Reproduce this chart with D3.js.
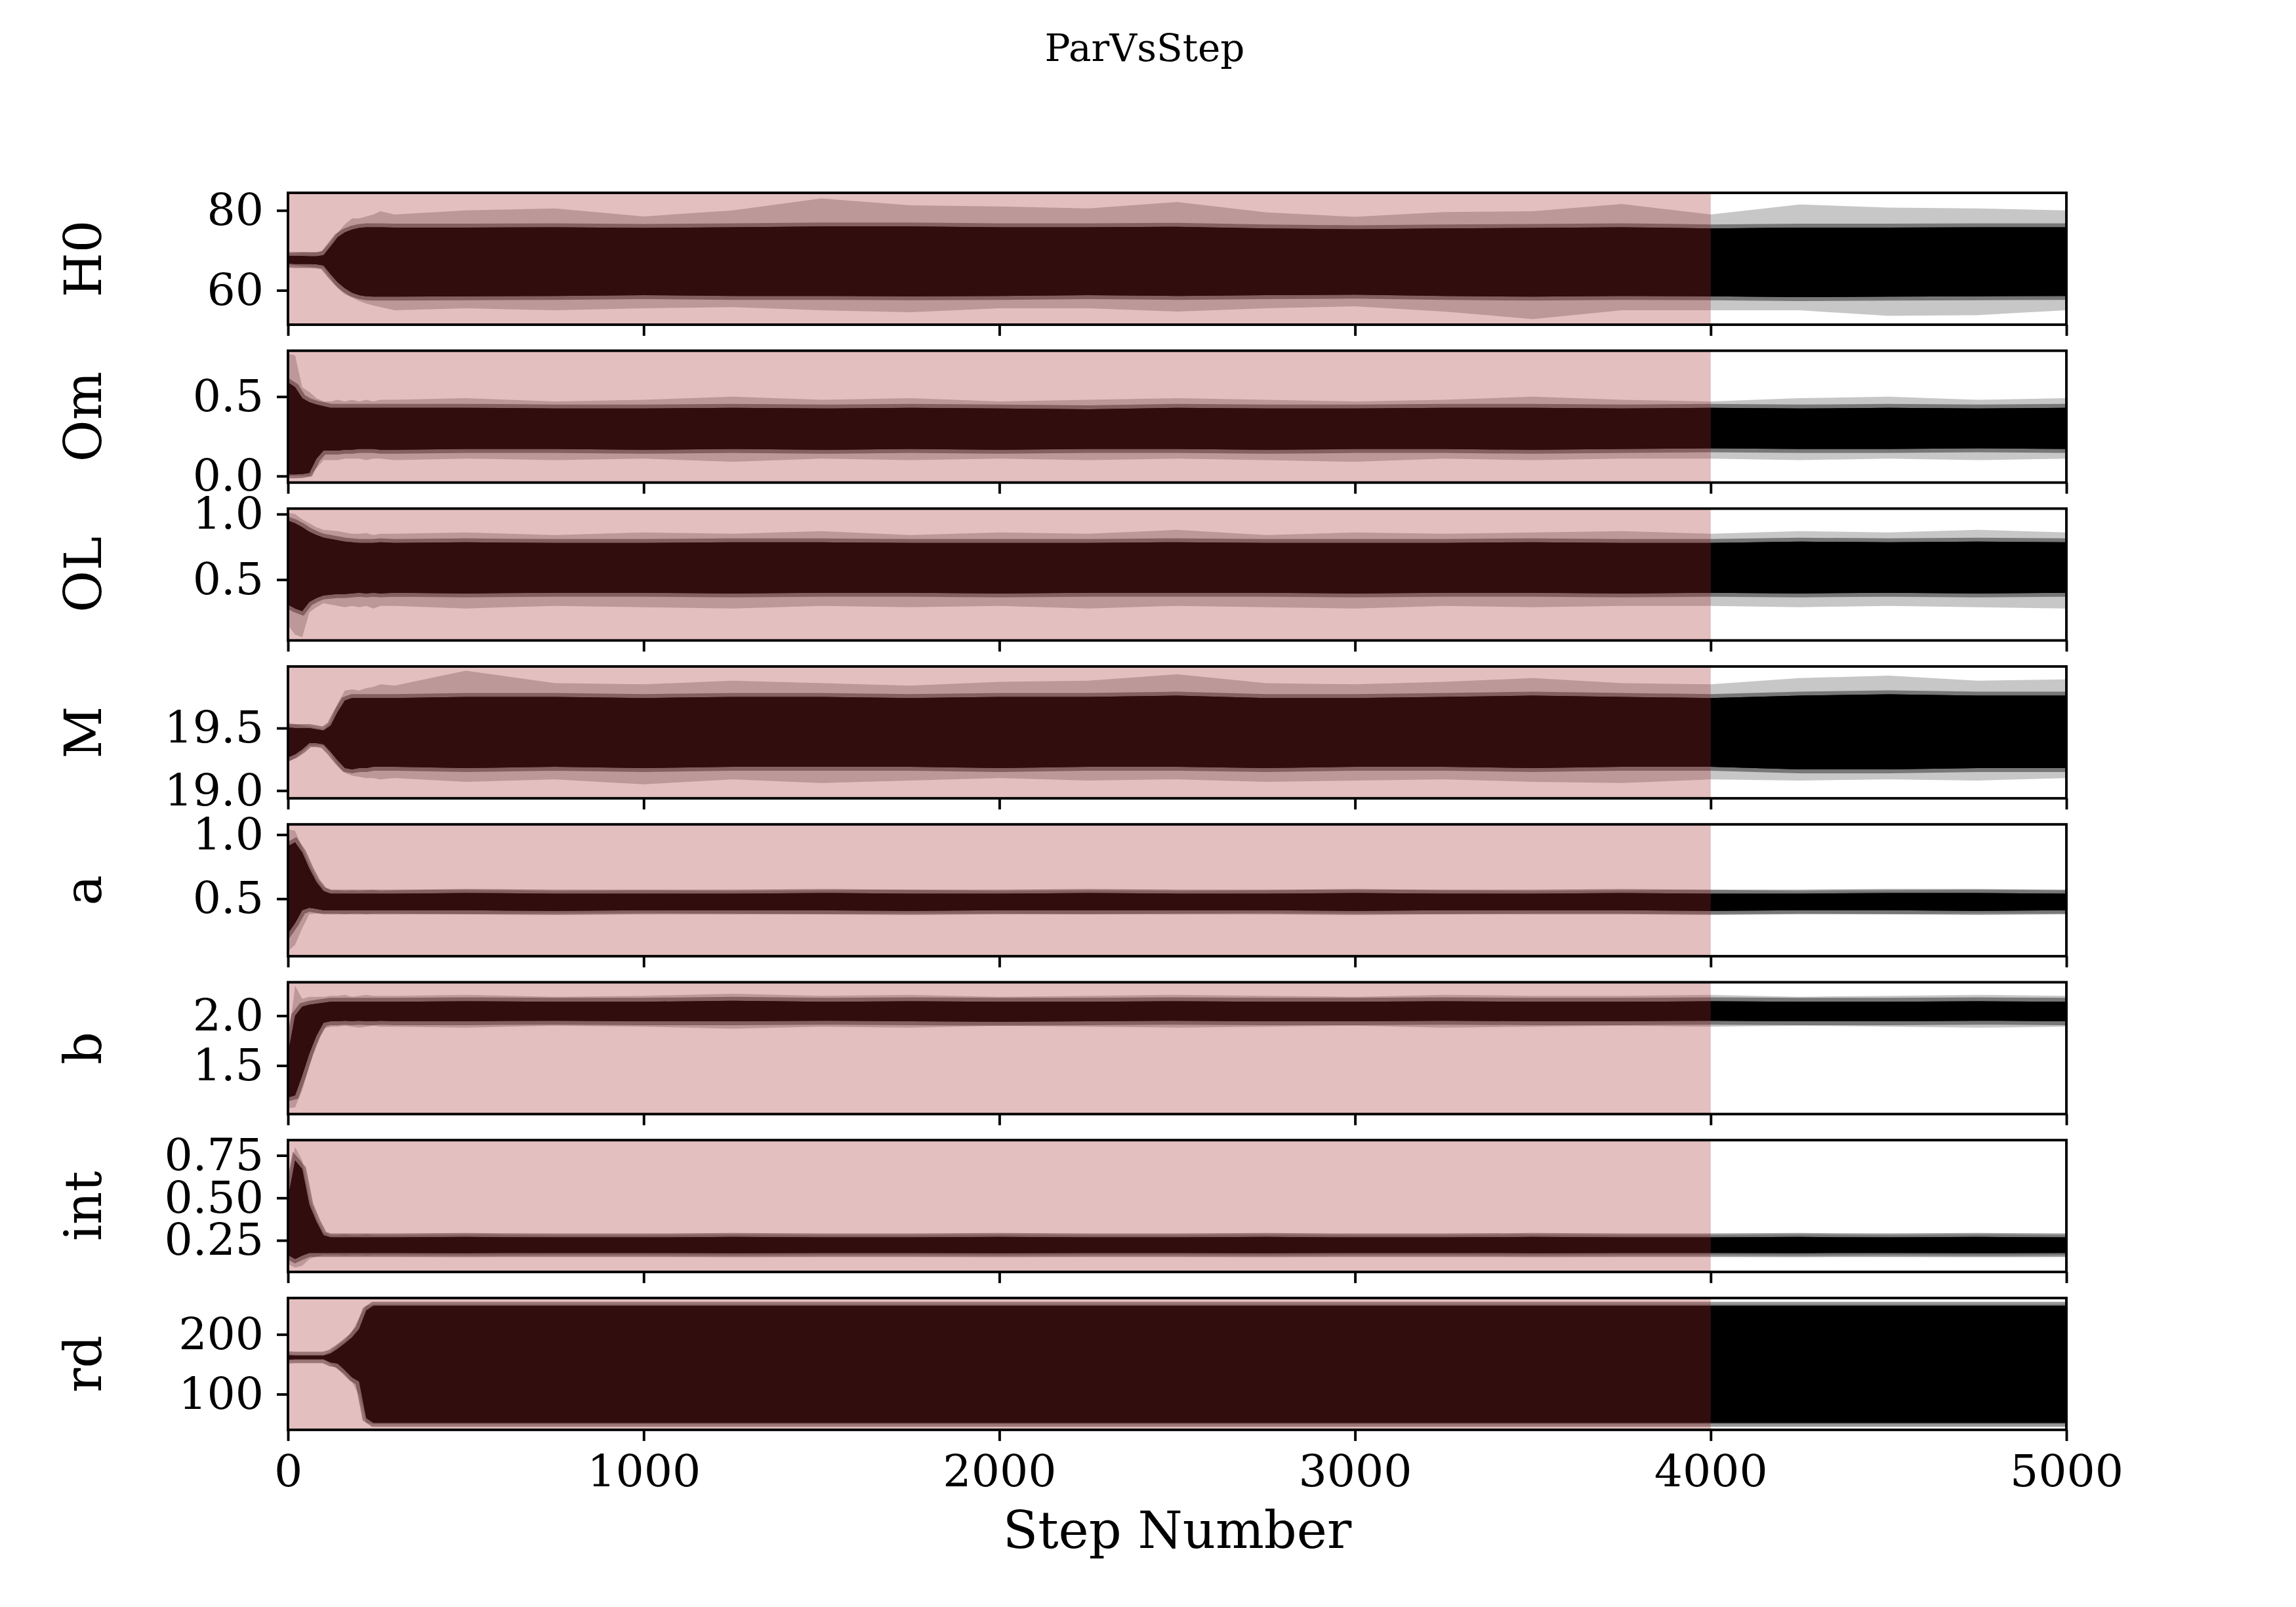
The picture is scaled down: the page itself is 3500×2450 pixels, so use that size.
<!DOCTYPE html>
<html><head><meta charset="utf-8">
<script src="https://cdn.jsdelivr.net/npm/d3@7"></script>
<style>body{margin:0;background:#fff}svg{display:block}text{font-family:"DejaVu Serif",serif}</style>
</head><body>
<svg id="chart" width="3500" height="2450"></svg>
<script>
// ---------------- data ----------------
const params = ["H0", "Om", "OL", "M", "a", "b", "int", "rd"];
const steps = [0,20,40,60,80,100,120,140,160,180,200,220,240,260,
  300,500,750,1000,1250,1500,1750,2000,2250,2500,2750,3000,3250,3500,3750,4000,4250,4500,4750,5000];

// envelope of all walkers: outer (hi/lo) and dense core (chi/clo)
const H0_hi  = [69.2,69.3,69.5,69.6,69.6,70.0,72.0,74.5,76.5,78.0,78.0,78.5,79.0,79.8, 79.0,80.0,80.5,78.5,80.0,83.0,81.3,81.0,80.5,82.1,79.5,78.4,79.6,79.8,81.6,79.0,81.5,80.7,80.5,80.0];
const H0_chi = [68.6,68.6,68.6,68.5,68.5,68.8,71.0,73.3,74.5,75.2,75.6,75.8,75.8,75.8, 75.7,75.7,75.8,75.6,75.8,76.0,76.0,75.8,75.8,75.9,75.5,75.3,75.5,75.6,75.8,75.5,75.7,75.7,75.8,75.8];
const H0_clo = [66.7,66.6,66.6,66.6,66.5,66.2,64.0,62.0,60.5,59.4,58.8,58.5,58.4,58.4, 58.4,58.5,58.6,58.8,58.6,58.6,58.5,58.6,58.8,58.6,58.8,58.9,58.6,58.4,58.6,58.5,58.3,58.4,58.5,58.6];
const H0_lo  = [66.3,66.2,66.0,65.9,65.8,65.5,63.0,60.5,59.0,58.2,57.3,56.7,56.2,55.8, 55.0,55.5,55.0,55.5,55.8,55.0,54.5,55.5,55.5,54.7,55.5,56.0,54.7,52.8,55.0,55.0,55.0,53.6,53.8,55.0];

const Om_hi  = [0.77,0.76,0.56,0.53,0.49,0.47,0.47,0.48,0.47,0.48,0.47,0.48,0.47,0.48, 0.48,0.49,0.47,0.48,0.50,0.48,0.49,0.47,0.48,0.49,0.48,0.47,0.48,0.50,0.48,0.47,0.49,0.50,0.48,0.49];
const Om_chi = [0.59,0.56,0.49,0.465,0.45,0.44,0.43,0.43,0.43,0.43,0.43,0.43,0.43,0.43, 0.43,0.43,0.425,0.425,0.43,0.425,0.43,0.425,0.42,0.43,0.425,0.425,0.43,0.43,0.425,0.43,0.425,0.43,0.425,0.43];
const Om_clo = [0.01,0.01,0.012,0.02,0.11,0.16,0.16,0.16,0.165,0.165,0.17,0.17,0.17,0.165, 0.165,0.17,0.17,0.165,0.17,0.165,0.17,0.165,0.17,0.17,0.165,0.17,0.17,0.165,0.17,0.175,0.17,0.17,0.175,0.17];
const Om_lo  = [0.0,0.0,0.0,0.0,0.05,0.10,0.10,0.10,0.11,0.11,0.11,0.10,0.11,0.11, 0.10,0.11,0.10,0.11,0.09,0.11,0.10,0.11,0.10,0.11,0.10,0.09,0.11,0.10,0.11,0.11,0.10,0.11,0.10,0.11];

const OL_hi  = [1.01,1.0,0.96,0.93,0.90,0.88,0.875,0.87,0.86,0.85,0.85,0.855,0.84,0.85, 0.85,0.86,0.84,0.86,0.85,0.87,0.84,0.86,0.85,0.88,0.84,0.86,0.85,0.86,0.87,0.85,0.87,0.86,0.88,0.86];
const OL_chi = [0.95,0.93,0.90,0.865,0.84,0.82,0.81,0.80,0.79,0.785,0.78,0.78,0.78,0.785, 0.78,0.785,0.78,0.78,0.785,0.785,0.78,0.78,0.78,0.785,0.78,0.78,0.78,0.785,0.78,0.78,0.79,0.785,0.79,0.785];
const OL_clo = [0.31,0.28,0.26,0.33,0.36,0.38,0.385,0.39,0.39,0.395,0.40,0.395,0.40,0.395, 0.40,0.395,0.40,0.40,0.395,0.40,0.40,0.395,0.40,0.40,0.40,0.395,0.40,0.40,0.395,0.40,0.395,0.40,0.395,0.40];
const OL_lo  = [0.15,0.08,0.06,0.25,0.29,0.32,0.31,0.30,0.29,0.30,0.29,0.30,0.28,0.30, 0.30,0.28,0.30,0.29,0.28,0.30,0.29,0.30,0.28,0.30,0.29,0.28,0.30,0.29,0.30,0.30,0.29,0.30,0.29,0.28];

const M_hi  = [19.53,19.53,19.52,19.51,19.50,19.49,19.55,19.70,19.80,19.81,19.80,19.82,19.83,19.85, 19.84,19.96,19.86,19.85,19.88,19.86,19.84,19.87,19.88,19.93,19.86,19.85,19.87,19.90,19.86,19.85,19.90,19.92,19.88,19.89];
const M_chi = [19.505,19.50,19.50,19.50,19.49,19.48,19.52,19.63,19.72,19.74,19.74,19.74,19.74,19.74, 19.74,19.75,19.75,19.74,19.75,19.75,19.74,19.75,19.75,19.76,19.74,19.74,19.75,19.76,19.75,19.74,19.76,19.77,19.76,19.76];
const M_clo = [19.265,19.29,19.33,19.38,19.38,19.37,19.31,19.24,19.18,19.17,19.18,19.18,19.19,19.19, 19.19,19.18,19.19,19.18,19.19,19.19,19.19,19.18,19.19,19.19,19.18,19.19,19.19,19.18,19.19,19.19,19.17,19.17,19.18,19.18];
const M_lo  = [19.23,19.26,19.31,19.36,19.36,19.36,19.29,19.20,19.14,19.12,19.11,19.10,19.10,19.09, 19.10,19.07,19.09,19.05,19.09,19.06,19.08,19.10,19.08,19.09,19.07,19.08,19.09,19.07,19.06,19.09,19.08,19.09,19.08,19.10];

const a_hi  = [1.04,1.03,0.90,0.77,0.66,0.59,0.565,0.565,0.56,0.565,0.56,0.565,0.57,0.56, 0.565,0.57,0.56,0.565,0.56,0.565,0.57,0.56,0.565,0.56,0.565,0.57,0.565,0.56,0.565,0.57,0.56,0.565,0.57,0.565];
const a_chi = [0.91,0.94,0.86,0.735,0.63,0.56,0.54,0.54,0.54,0.54,0.54,0.54,0.54,0.54, 0.54,0.545,0.54,0.54,0.54,0.545,0.54,0.54,0.545,0.54,0.54,0.545,0.54,0.54,0.545,0.54,0.54,0.545,0.545,0.54];
const a_clo = [0.23,0.31,0.41,0.43,0.42,0.41,0.41,0.41,0.41,0.41,0.41,0.41,0.41,0.41, 0.41,0.41,0.405,0.41,0.41,0.41,0.405,0.41,0.41,0.41,0.41,0.405,0.41,0.41,0.41,0.405,0.41,0.41,0.405,0.41];
const a_lo  = [0.09,0.14,0.27,0.38,0.385,0.385,0.385,0.385,0.38,0.385,0.385,0.38,0.385,0.385, 0.385,0.38,0.385,0.39,0.385,0.38,0.385,0.385,0.38,0.385,0.39,0.385,0.38,0.385,0.385,0.38,0.385,0.38,0.385,0.385];

const b_hi  = [1.73,2.30,2.17,2.19,2.19,2.19,2.20,2.20,2.21,2.19,2.20,2.21,2.20,2.20, 2.20,2.21,2.19,2.20,2.22,2.20,2.21,2.19,2.20,2.21,2.20,2.19,2.21,2.20,2.20,2.21,2.19,2.20,2.21,2.20];
const b_chi = [1.62,2.00,2.09,2.11,2.12,2.13,2.14,2.14,2.14,2.14,2.14,2.14,2.14,2.14, 2.14,2.145,2.14,2.14,2.15,2.14,2.145,2.14,2.14,2.145,2.14,2.14,2.145,2.14,2.14,2.145,2.14,2.14,2.145,2.14];
const b_clo = [1.18,1.20,1.40,1.62,1.80,1.93,1.945,1.945,1.95,1.945,1.95,1.945,1.945,1.95, 1.945,1.945,1.95,1.945,1.945,1.95,1.945,1.94,1.945,1.95,1.945,1.945,1.95,1.945,1.945,1.95,1.945,1.945,1.95,1.945];
const b_lo  = [1.07,1.08,1.25,1.50,1.72,1.87,1.89,1.89,1.90,1.89,1.88,1.89,1.90,1.89, 1.89,1.88,1.90,1.89,1.87,1.89,1.88,1.90,1.89,1.88,1.89,1.90,1.88,1.89,1.90,1.89,1.90,1.89,1.88,1.89];

const int_hi  = [0.60,0.80,0.72,0.50,0.38,0.30,0.28,0.28,0.285,0.28,0.28,0.285,0.28,0.28, 0.28,0.285,0.28,0.28,0.285,0.28,0.28,0.285,0.28,0.28,0.285,0.28,0.28,0.285,0.28,0.28,0.285,0.28,0.285,0.28];
const int_chi = [0.50,0.72,0.67,0.46,0.36,0.28,0.267,0.267,0.267,0.267,0.267,0.267,0.267,0.267, 0.267,0.27,0.267,0.267,0.27,0.267,0.267,0.27,0.267,0.267,0.27,0.267,0.267,0.27,0.267,0.267,0.27,0.267,0.27,0.267];
const int_clo = [0.163,0.14,0.16,0.176,0.176,0.176,0.176,0.176,0.176,0.176,0.176,0.176,0.176,0.176, 0.176,0.175,0.176,0.176,0.175,0.176,0.176,0.175,0.176,0.176,0.175,0.176,0.176,0.175,0.176,0.176,0.175,0.176,0.175,0.176];
const int_lo  = [0.11,0.09,0.10,0.14,0.155,0.163,0.163,0.163,0.16,0.163,0.163,0.16,0.163,0.163, 0.163,0.16,0.163,0.163,0.16,0.163,0.163,0.16,0.163,0.163,0.16,0.163,0.163,0.16,0.163,0.163,0.16,0.163,0.16,0.163];

const rd_hi  = [167,166,166,166,166,166,171,182,190,205,227,248,250,250, 250,250,250,250,250,250,250,250,250,250,250,250,250,250,250,250,250,250,250,250];
const rd_chi = [165,164.5,164.5,164.5,164.5,164.5,168,176,185,195,209,240,248,248, 248,248,248,248,248,248,248,248,248,248,248,248,248,248,248,248,248,248,248,248];
const rd_clo = [158,158.5,158.5,158.5,158.5,158.5,153,151,140,128,121,60,52,52, 52,52,52,52,52,52,52,52,52,52,52,52,52,52,52,52,52,52,52,52];
const rd_lo  = [157,157,157,157,157,157,150,142,134,120,99,52,50,50, 50,50,50,50,50,50,50,50,50,50,50,50,50,50,50,50,50,50,50,50];

const yDomains = [[51.4,84.4],[-0.041,0.789],[0.036,1.042],[18.938,19.993],[0.052,1.080],[1.013,2.336],[0.064,0.840],[40.3,260.9]];
const yTicks = [[60,80],[0,0.5],[0.5,1.0],[19.0,19.5],[0.5,1.0],[1.5,2.0],[0.25,0.5,0.75],[100,200]];
const yTickLabels = [["60","80"],["0.0","0.5"],["0.5","1.0"],["19.0","19.5"],["0.5","1.0"],["1.5","2.0"],["0.25","0.50","0.75"],["100","200"]];
const xTicks = [0,1000,2000,3000,4000,5000];
const xTickLabels = ["0","1000","2000","3000","4000","5000"];
const stepRange = [0,5000];
const burnIn = [0,4000];
const titleText = "ParVsStep";
const xLabelText = "Step Number";

// ---------------- layout ----------------
const series = {
  H0:[H0_hi,H0_chi,H0_clo,H0_lo], Om:[Om_hi,Om_chi,Om_clo,Om_lo], OL:[OL_hi,OL_chi,OL_clo,OL_lo],
  M:[M_hi,M_chi,M_clo,M_lo], a:[a_hi,a_chi,a_clo,a_lo], b:[b_hi,b_chi,b_clo,b_lo],
  int:[int_hi,int_chi,int_clo,int_lo], rd:[rd_hi,rd_chi,rd_clo,rd_lo]
};
const L = 439, R = 3150, TOP0 = 294, GAP = 240.7, PH = 201;
const LW = 3.9, TICK = 17;
const svg = d3.select("#chart");
svg.append("rect").attr("width",3500).attr("height",2450).attr("fill","#fff");
const x = d3.scaleLinear().domain(stepRange).range([L,R]);

svg.append("text").attr("x",1745).attr("y",93).attr("text-anchor","middle")
  .attr("font-size",58).text(titleText);

params.forEach((p,i)=>{
  const top = TOP0 + i*GAP;
  const g = svg.append("g").attr("transform",`translate(0,${top})`);
  const y = d3.scaleLinear().domain(yDomains[i]).range([PH,0]);
  const [hi,chi,clo,lo] = series[p];
  const clipId = "clip"+i;
  g.append("clipPath").attr("id",clipId).append("rect").attr("x",L).attr("y",0).attr("width",R-L).attr("height",PH);
  const plot = g.append("g").attr("clip-path",`url(#${clipId})`);
  const idx = d3.range(steps.length);
  const outer = d3.area().x(j=>x(steps[j])).y0(j=>y(lo[j])).y1(j=>y(hi[j]));
  const core = d3.area().x(j=>x(steps[j])).y0(j=>y(clo[j])).y1(j=>y(chi[j]));
  plot.append("path").datum(idx).attr("d",outer).attr("fill","#000").attr("fill-opacity",0.22);
  plot.append("path").datum(idx).attr("d",core).attr("fill","#000")
    .attr("stroke","#000").attr("stroke-opacity",0.4).attr("stroke-width",12);
  plot.append("path").datum(idx).attr("d",core).attr("fill","#000");
  // burn-in shading
  plot.append("rect").attr("x",x(burnIn[0])).attr("y",0).attr("width",x(burnIn[1])-x(burnIn[0])).attr("height",PH)
    .attr("fill","#a52a2a").attr("fill-opacity",0.3);

  // y axis
  const ya = g.append("g").attr("transform",`translate(${L},0)`)
    .call(d3.axisLeft(y).tickValues(yTicks[i]).tickFormat((d,k)=>yTickLabels[i][k]).tickSize(TICK).tickPadding(20));
  ya.select(".domain").remove();
  ya.selectAll("line").attr("stroke","#000").attr("stroke-width",LW);
  ya.selectAll("text").attr("font-size",68).attr("font-family","DejaVu Serif").attr("fill","#000");

  // x axis
  const xa = g.append("g").attr("transform",`translate(0,${PH})`)
    .call(d3.axisBottom(x).tickValues(xTicks).tickFormat((d,k)=> i===params.length-1 ? xTickLabels[k] : "").tickSize(TICK).tickPadding(21));
  xa.select(".domain").remove();
  xa.selectAll("line").attr("stroke","#000").attr("stroke-width",LW);
  xa.selectAll("text").attr("font-size",68).attr("font-family","DejaVu Serif").attr("fill","#000");

  // spines
  g.append("rect").attr("x",L).attr("y",0).attr("width",R-L).attr("height",PH)
    .attr("fill","none").attr("stroke","#000").attr("stroke-width",LW);

  // y label
  g.append("text").attr("transform",`translate(154,${PH/2}) rotate(-90)`)
    .attr("text-anchor","middle").attr("font-size",78).text(p);
});

svg.append("text").attr("x",(L+R)/2).attr("y",2360).attr("text-anchor","middle")
  .attr("font-size",78).text(xLabelText);
</script>
</body></html>
